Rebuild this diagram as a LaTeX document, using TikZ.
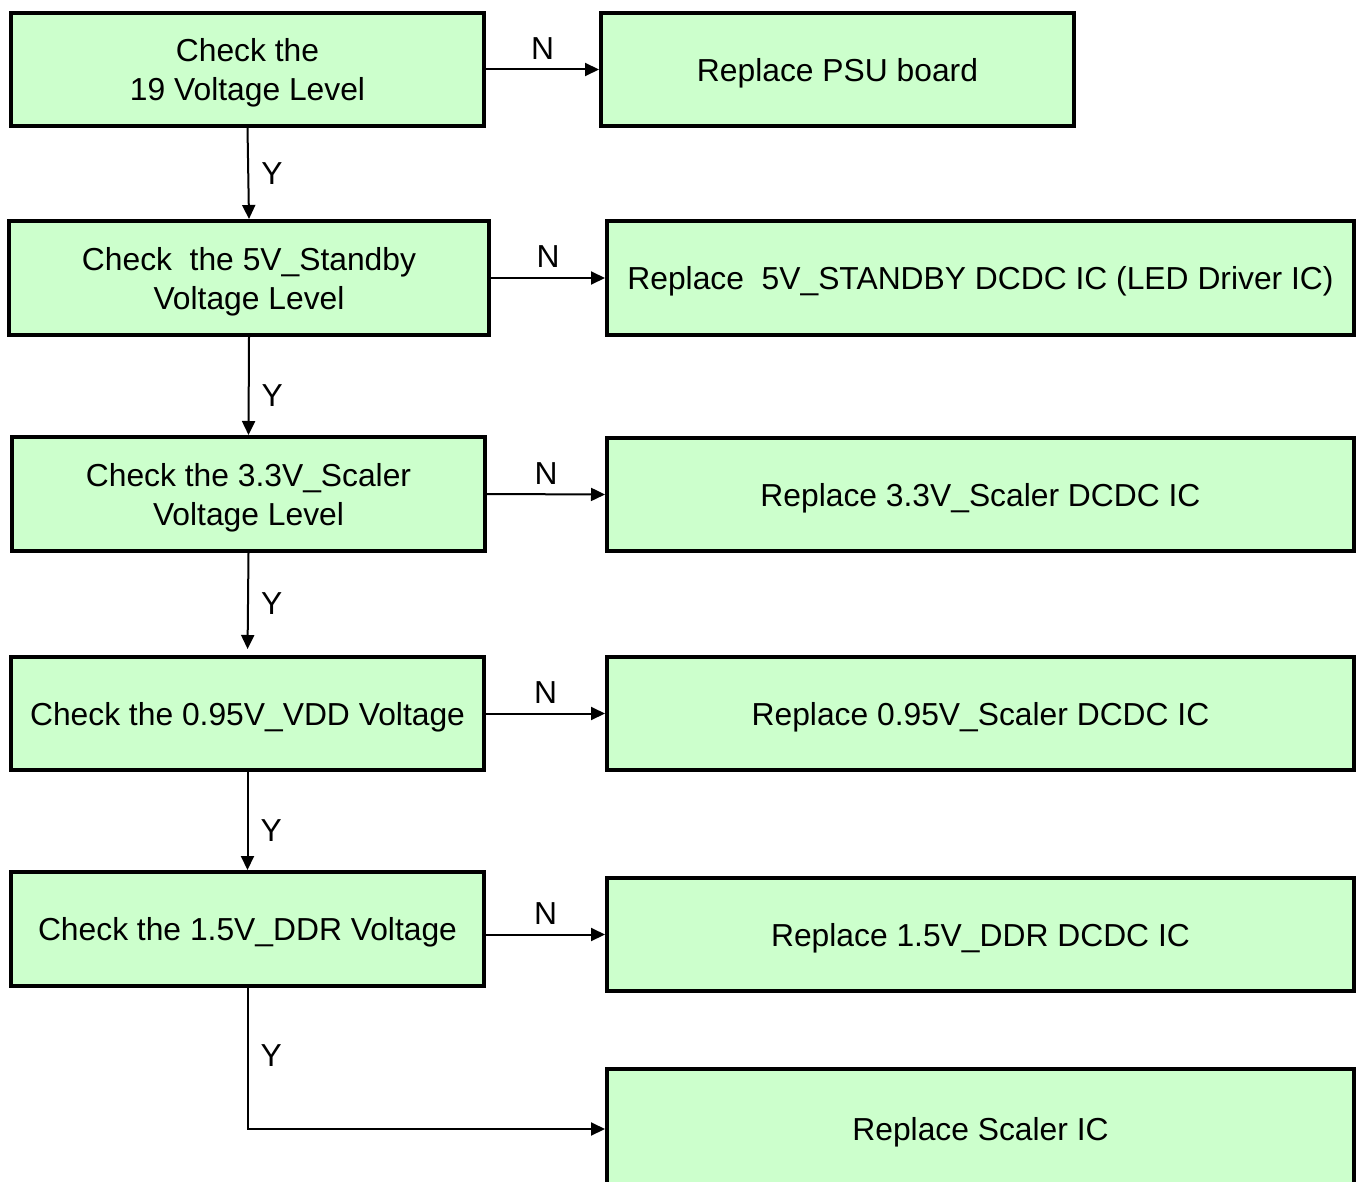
\documentclass[tikz,border=0pt]{standalone}
\usepackage{fontspec}
\setmainfont{Liberation Sans}
\usetikzlibrary{arrows.meta}
\definecolor{boxgreen}{HTML}{CCFFCC}
\begin{document}
\begin{tikzpicture}[x=1pt,y=-1pt,
  box/.style={draw=black,line width=4pt,fill=boxgreen,rectangle,inner sep=0pt,
    align=center,text depth=0pt,font=\fontsize{31.8}{39}\selectfont},
  arr/.style={line width=2pt,-{Triangle[length=14pt,width=13pt]}},
  lbl/.style={inner sep=0pt,font=\fontsize{31.8}{39}\selectfont}]
\clip (0,0) rectangle (1357,1182);
\fill[white] (0,0) rectangle (1357,1182);
\node[box,minimum width=473pt,minimum height=113pt] (l1) at (247.5,69.5) {Check the\\19 Voltage Level};
\node[box,minimum width=473pt,minimum height=113pt] (r1) at (837.5,69.5) {Replace PSU board};
\node[box,minimum width=480pt,minimum height=114pt] (l2) at (249,278) {Check~~the 5V\_Standby\\Voltage Level};
\node[box,minimum width=747pt,minimum height=114pt] (r2) at (980.5,278) {Replace~~5V\_STANDBY DCDC IC (LED Driver IC)};
\node[box,minimum width=473pt,minimum height=114pt] (l3) at (248.5,494) {Check the 3.3V\_Scaler\\Voltage Level};
\node[box,minimum width=747pt,minimum height=113pt] (r3) at (980.5,494.5) {Replace 3.3V\_Scaler DCDC IC};
\node[box,minimum width=473pt,minimum height=113pt] (l4) at (247.5,713.5) {Check the 0.95V\_VDD Voltage};
\node[box,minimum width=747pt,minimum height=113pt] (r4) at (980.5,713.5) {Replace 0.95V\_Scaler DCDC IC};
\node[box,minimum width=473pt,minimum height=114pt] (l5) at (247.5,929) {Check the 1.5V\_DDR Voltage};
\node[box,minimum width=747pt,minimum height=113pt] (r5) at (980.5,934.5) {Replace 1.5V\_DDR DCDC IC};
\node[box,minimum width=747pt,minimum height=120pt] (r6) at (980.5,1129) {Replace Scaler IC};
% N arrows
\draw[arr] (l1.east) -- node[lbl,above=9pt] {N} (r1.west);
\draw[arr] (l2.east) -- node[lbl,above=9pt] {N} (r2.west);
\draw[arr] (l3.east) -- node[lbl,above=9pt] {N} (r3.west);
\draw[arr] (l4.east) -- node[lbl,above=9pt] {N} (r4.west);
\draw[arr] (l5.east |- r5.west) -- node[lbl,above=9pt] {N} (r5.west);
% Y arrows
\draw[arr] (l1.south) -- node[lbl,right=12pt] {Y} (l2.north);
\draw[arr] (l2.south) -- node[lbl,right=12pt,pos=0.6] {Y} (l3.north);
\draw[arr,shorten >=6pt] (l3.south) -- node[lbl,right=12pt] {Y} (l4.north);
\draw[arr] (l4.south) -- node[lbl,right=12pt,pos=0.6] {Y} (l5.north);
\draw[arr] (l5.south) |- node[lbl,right=12pt,pos=0.24] {Y} (r6.west);
\end{tikzpicture}
\end{document}
